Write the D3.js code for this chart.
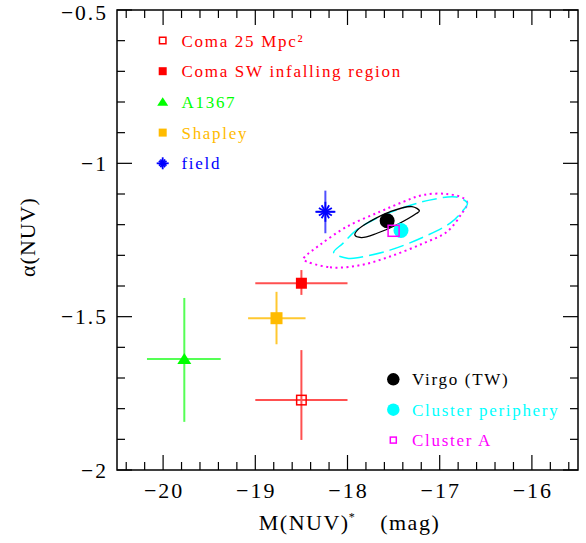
<!DOCTYPE html>
<html>
<head>
<meta charset="utf-8">
<script src="https://cdn.jsdelivr.net/npm/d3@7"></script>
<style>
  body { margin: 0; background: #fff; }
  svg { display: block; }
  text { font-family: "Liberation Serif", "Times New Roman", serif; }
</style>
</head>
<body>
<div id="chart"></div>
<script>
// Values
const labels = ['Coma 25 Mpc²', 'Coma SW infalling region', 'A1367', 'Shapley', 'field',
                'Virgo (TW)', 'Cluster periphery', 'Cluster A'];
const magNUV     = [-18.50, -18.50, -19.77, -18.77, -18.24, -17.57, -17.42, -17.50];
const alphaNUV   = [-1.772, -1.391, -1.638, -1.505, -1.158, -1.187, -1.219, -1.220];
const magErrLo   = [0.50, 0.50, 0.405, 0.308, 0.10, 0, 0, 0];
const magErrHi   = [0.50, 0.50, 0.395, 0.315, 0.10, 0, 0, 0];
const alphaErrLo = [0.130, 0.038, 0.205, 0.085, 0.070, 0, 0, 0];
const alphaErrHi = [0.163, 0.043, 0.199, 0.086, 0.069, 0, 0, 0];

// confidence contours (M, alpha)
const virgoContour = [
    [-17.92, -1.234], [-17.89, -1.217], [-17.76, -1.190], [-17.54, -1.158], [-17.30, -1.141],
    [-17.22, -1.155], [-17.25, -1.163], [-17.47, -1.201], [-17.68, -1.228], [-17.85, -1.242]
];
const peripheryContour = [
    [-18.15, -1.291], [-17.99, -1.310], [-17.86, -1.306], [-17.54, -1.283], [-17.18, -1.241],
    [-16.89, -1.196], [-16.76, -1.158], [-16.70, -1.130], [-16.82, -1.110], [-17.11, -1.120],
    [-17.36, -1.141], [-17.65, -1.174], [-17.90, -1.217], [-18.05, -1.261]
];
const clusterAContour = [
    [-18.48, -1.313], [-18.19, -1.339], [-17.86, -1.332], [-17.54, -1.304], [-17.18, -1.261],
    [-16.92, -1.223], [-16.76, -1.163], [-16.70, -1.130], [-16.74, -1.114], [-16.92, -1.100],
    [-17.18, -1.103], [-17.39, -1.125], [-17.65, -1.158], [-18.01, -1.207], [-18.30, -1.266],
    [-18.46, -1.304]
];

const xMajor = [-20, -19, -18, -17, -16];
const xTickLabels = ['\u221220', '\u221219', '\u221218', '\u221217', '\u221216'];
const yMajor = [-0.5, -1, -1.5, -2];
const yTickLabels = ['\u22120.5', '\u22121', '\u22121.5', '\u22122'];

// Styles
const STYLE = [
    { shape: 'openSquare', color: '#ff0000', err: '#ff5050', size: 11, lsize: 8 },
    { shape: 'square',     color: '#ff0000', err: '#ff5050', size: 11, lsize: 8 },
    { shape: 'triangle',   color: '#00ff00', err: '#55ff55', size: 14, lsize: 11 },
    { shape: 'square',     color: '#ffbb00', err: '#ffc830', size: 12, lsize: 8 },
    { shape: 'star',       color: '#0000ff', err: '#5050ff', size: 20, lsize: 12 },
    { shape: 'circle',     color: '#000000', size: 15, lsize: 12.5 },
    { shape: 'circle',     color: '#00ffff', size: 15, lsize: 12.5 },
    { shape: 'openSquare', color: '#ff00ff', size: 12.5, lsize: 7.5 }
];

const W = 586, H = 543;
const margin = { top: 10, right: 8, bottom: 73, left: 117 };
const width = W - margin.left - margin.right;
const height = H - margin.top - margin.bottom;

const svg = d3.select('#chart').append('svg')
    .attr('width', W)
    .attr('height', H);

const g = svg.append('g')
    .attr('transform', `translate(${margin.left},${margin.top})`);

const x = d3.scaleLinear().domain([-20.5, -15.5]).range([0, width]);
const y = d3.scaleLinear().domain([-0.5, -2]).range([0, height]);

// Minor ticks
const xMinor = x.ticks(25);
const yMinor = y.ticks(15);

function addTicks(values, scale, isX) {
    values.forEach(v => {
        const major = (isX ? xMajor : yMajor).some(m => Math.abs(m - v) < 1e-6);
        const len = major ? 15 : 8;
        const p = scale(v);
        if (isX) {
            g.append('line').attr('x1', p).attr('x2', p).attr('y1', height).attr('y2', height - len);
            g.append('line').attr('x1', p).attr('x2', p).attr('y1', 0).attr('y2', len);
        } else {
            g.append('line').attr('y1', p).attr('y2', p).attr('x1', 0).attr('x2', len);
            g.append('line').attr('y1', p).attr('y2', p).attr('x1', width).attr('x2', width - len);
        }
    });
}
addTicks(xMinor, x, true);
addTicks(yMinor, y, false);
g.selectAll('line').attr('stroke', '#000').attr('stroke-width', 1.2);

// Tick labels
g.selectAll('.xlab')
    .data(xMajor)
    .enter().append('text')
    .attr('class', 'xlab')
    .attr('x', d => x(d) + 1)
    .attr('y', height + 28)
    .attr('text-anchor', 'middle')
    .style('font-size', '22px')
    .style('letter-spacing', '2px')
    .text((d, i) => xTickLabels[i]);

// keep the top label inside the page
g.selectAll('.ylab')
    .data(yMajor)
    .enter().append('text')
    .attr('class', 'ylab')
    .attr('x', -9)
    .attr('y', d => Math.max(y(d) + 7.5, 9.5))
    .attr('text-anchor', 'end')
    .style('font-size', '21.5px')
    .style('letter-spacing', '2px')
    .text((d, i) => yTickLabels[i]);

// Axis titles
const xt = svg.append('text')
    .attr('x', margin.left + width / 2 + 2)
    .attr('y', 530)
    .attr('text-anchor', 'middle')
    .style('font-size', '22px')
    .style('letter-spacing', '1.5px');
xt.append('tspan').text('M(NUV)');
xt.append('tspan').attr('dy', -9).attr('dx', -1).style('font-size', '12px').text('*');
xt.append('tspan').attr('dy', 9).attr('dx', 24).text('(mag)');

svg.append('text')
    .attr('transform', 'translate(35,237) rotate(-90)')
    .attr('text-anchor', 'middle')
    .style('font-size', '22px')
    .style('letter-spacing', '1px')
    .text('\u03b1(NUV)');

// Contours
const line = d3.line()
    .x(d => x(d[0]))
    .y(d => y(d[1]))
    .curve(d3.curveCatmullRomClosed.alpha(0.5));

g.append('path')
    .attr('d', line(clusterAContour))
    .attr('fill', 'none')
    .attr('stroke', '#ff00ff')
    .attr('stroke-width', 2)
    .attr('stroke-dasharray', '2 3.5');

g.append('path')
    .attr('d', line(peripheryContour))
    .attr('fill', 'none')
    .attr('stroke', '#00ffff')
    .attr('stroke-width', 1.5)
    .attr('stroke-dasharray', '15 6');

g.append('path')
    .attr('d', line(virgoContour))
    .attr('fill', 'none')
    .attr('stroke', '#000')
    .attr('stroke-width', 1.3);

// Error bars
labels.forEach((name, i) => {
    const st = STYLE[i];
    if (!st.err) return;
    const cx = x(magNUV[i]), cy = y(alphaNUV[i]);
    g.append('line')
        .attr('x1', x(magNUV[i] - magErrLo[i])).attr('x2', x(magNUV[i] + magErrHi[i]))
        .attr('y1', cy).attr('y2', cy)
        .attr('stroke', st.err).attr('stroke-width', 2);
    g.append('line')
        .attr('x1', cx).attr('x2', cx)
        .attr('y1', y(alphaNUV[i] - alphaErrLo[i])).attr('y2', y(alphaNUV[i] + alphaErrHi[i]))
        .attr('stroke', st.err).attr('stroke-width', 2);
});

function drawMarker(parent, shape, cx, cy, s, color) {
    const h = s / 2;
    if (shape === 'square') {
        parent.append('rect').attr('x', cx - h).attr('y', cy - h)
            .attr('width', s).attr('height', s).attr('fill', color);
    } else if (shape === 'openSquare') {
        parent.append('rect').attr('x', cx - h + 0.75).attr('y', cy - h + 0.75)
            .attr('width', s - 1.5).attr('height', s - 1.5)
            .attr('fill', 'none').attr('stroke', color).attr('stroke-width', 1.5);
    } else if (shape === 'triangle') {
        const th = s * 0.78;
        parent.append('path')
            .attr('d', `M${cx},${cy - th * 0.55}L${cx + h},${cy + th * 0.45}L${cx - h},${cy + th * 0.45}Z`)
            .attr('fill', color);
    } else if (shape === 'circle') {
        parent.append('circle').attr('cx', cx).attr('cy', cy).attr('r', h).attr('fill', color);
    } else if (shape === 'star') {
        [0, 30, 60, 90, 120, 150].forEach(a => {
            const r = a % 90 === 0 ? h : h * 0.75;
            const dx = r * Math.cos(a * Math.PI / 180), dy = r * Math.sin(a * Math.PI / 180);
            parent.append('line')
                .attr('x1', cx - dx).attr('x2', cx + dx)
                .attr('y1', cy - dy).attr('y2', cy + dy)
                .attr('stroke', color).attr('stroke-width', 1.8);
        });
        parent.append('circle').attr('cx', cx).attr('cy', cy).attr('r', s * 0.12).attr('fill', color);
    }
}

// Markers
labels.forEach((name, i) => {
    const st = STYLE[i];
    drawMarker(g, st.shape, x(magNUV[i]), y(alphaNUV[i]), st.size, st.color);
});

// Frame
g.append('rect')
    .attr('width', width).attr('height', height)
    .attr('fill', 'none').attr('stroke', '#000').attr('stroke-width', 1.5);

// Legends
const legend = svg.append('g');
const upper = [0, 1, 2, 3, 4];
const lower = [5, 6, 7];

upper.forEach((idx, k) => {
    const ly = 40.5 + k * 30.7;
    drawMarker(legend, STYLE[idx].shape, 162.7, ly, STYLE[idx].lsize, STYLE[idx].color);
    legend.append('text')
        .attr('x', 181.5).attr('y', ly + 6)
        .attr('fill', STYLE[idx].color)
        .style('font-size', '17px')
        .style('letter-spacing', '1.7px')
        .text(labels[idx]);
});

lower.forEach((idx, k) => {
    const ly = 379.3 + k * 30.4;
    drawMarker(legend, STYLE[idx].shape, 393.3, ly, STYLE[idx].lsize, STYLE[idx].color);
    legend.append('text')
        .attr('x', 412).attr('y', ly + 6)
        .attr('fill', STYLE[idx].color)
        .style('font-size', '17px')
        .style('letter-spacing', '1.7px')
        .text(labels[idx]);
});
</script>
</body>
</html>
